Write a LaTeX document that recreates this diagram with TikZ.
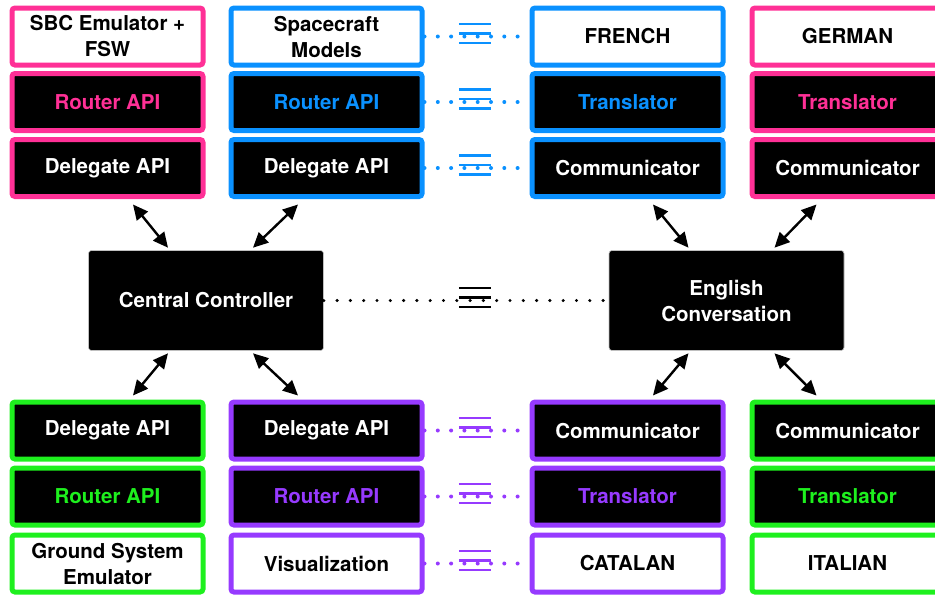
\documentclass[tikz,border=0pt]{standalone}
\usepackage{fontspec}
\setmainfont{TeX Gyre Heros}
\usetikzlibrary{arrows.meta,calc}
\definecolor{pinkc}{RGB}{255,48,150}
\definecolor{bluec}{RGB}{10,145,255}
\definecolor{greenc}{RGB}{30,240,30}
\definecolor{purplec}{RGB}{150,58,255}
\tikzset{
  eqv/.pic={
    \draw[line width=2.6pt] (-16,-12.5) -- (16,-12.5) (-16,-3) -- (16,-3) (-16,6.5) -- (16,6.5);
  }
}
\begin{document}
\begin{tikzpicture}[x=1pt,y=-1pt,
  lbl/.style={font=\bfseries\fontsize{20.5}{26}\selectfont},
  box/.style={lbl, draw=#1, line width=5pt, rounded corners=3pt,
    minimum width=191pt, minimum height=57pt, inner sep=0pt, align=center},
  whitebox/.style={box=#1, fill=white, text=black},
  darkbox/.style={box=#1, fill=black, text=white},
  colbox/.style={box=#1, fill=black, text=#1},
  hub/.style={lbl, fill=black, draw=black!25, line width=0.6pt, rounded corners=3pt,
    minimum width=235pt, minimum height=100pt, inner sep=0pt, text=white, align=center},
  link/.style={line width=2.4pt, {Triangle[length=15pt,width=14pt]}-{Triangle[length=15pt,width=14pt]}},
  dotline/.style={line width=4pt, line cap=round, dash pattern=on 0pt off 13.3pt},
]
\useasboundingbox (0,0) rectangle (935,595);
\clip (0,0) rectangle (935,595);

% ---- top-left stacks
\node[whitebox=pinkc] (sbc)  at (107.5,36.5) {SBC Emulator +\\FSW};
\node[colbox=pinkc]   (prt)  at (107.5,102)  {Router API};
\node[darkbox=pinkc]  (pdel) at (107.5,168)  {Delegate API};

\node[whitebox=bluec] (scm)  at (326.5,36.5) {Spacecraft\\Models};
\node[colbox=bluec]   (brt)  at (326.5,102)  {Router API};
\node[darkbox=bluec]  (bdel) at (326.5,168)  {Delegate API};

% ---- top-right stacks
\node[whitebox=bluec] (fr)   at (627.5,36.5) {FRENCH};
\node[colbox=bluec]   (frt)  at (627.5,102)  {Translator};
\node[darkbox=bluec]  (frc)  at (627.5,168)  {Communicator};

\node[whitebox=pinkc] (de)   at (847.5,36.5) {GERMAN};
\node[colbox=pinkc]   (det)  at (847.5,102)  {Translator};
\node[darkbox=pinkc]  (dec)  at (847.5,168)  {Communicator};

% ---- bottom-left stacks
\node[darkbox=greenc]  (gdel) at (107.5,430.5) {Delegate API};
\node[colbox=greenc]   (grt)  at (107.5,496.5) {Router API};
\node[whitebox=greenc] (gse)  at (107.5,563.5) {Ground System\\Emulator};

\node[darkbox=purplec]  (vdel) at (326.5,430.5) {Delegate API};
\node[colbox=purplec]   (vrt)  at (326.5,496.5) {Router API};
\node[whitebox=purplec] (vis)  at (326.5,563.5) {Visualization};

% ---- bottom-right stacks
\node[darkbox=purplec]  (cac) at (627.5,430.5) {Communicator};
\node[colbox=purplec]   (cat) at (627.5,496.5) {Translator};
\node[whitebox=purplec] (ca)  at (627.5,563.5) {CATALAN};

\node[darkbox=greenc]  (itc) at (847.5,430.5) {Communicator};
\node[colbox=greenc]   (itt) at (847.5,496.5) {Translator};
\node[whitebox=greenc] (it)  at (847.5,563.5) {ITALIAN};

% ---- hubs
\node[hub] (cc)  at (206,300.5)   {Central Controller};
\node[hub] (eng) at (726.5,300.5) {English\\Conversation};

% ---- equivalence links
\draw[dotline, bluec] (scm.east)  -- (fr.west);
\draw[dotline, bluec] (brt.east)  -- (frt.west);
\draw[dotline, bluec] (bdel.east) -- (frc.west);
\pic[bluec] at ($(scm.east)!0.48!(fr.west)$) {eqv};
\pic[bluec] at ($(brt.east)!0.48!(frt.west)$) {eqv};
\pic[bluec] at ($(bdel.east)!0.48!(frc.west)$) {eqv};

\draw[dotline, purplec] (vdel.east) -- (cac.west);
\draw[dotline, purplec] (vrt.east)  -- (cat.west);
\draw[dotline, purplec] (vis.east)  -- (ca.west);
\pic[purplec] at ($(vdel.east)!0.48!(cac.west)$) {eqv};
\pic[purplec] at ($(vrt.east)!0.48!(cat.west)$) {eqv};
\pic[purplec] at ($(vis.east)!0.48!(ca.west)$) {eqv};

\draw[dotline, black, line width=3.4pt] (cc.east) -- (eng.west);
\pic[black] at ($(cc.east)!0.53!(eng.west)$) {eqv};

% ---- hub connections
\draw[link] ([xshift=25.5pt,yshift=-5.5pt]pdel.south) -- ([xshift=-38pt,yshift=2.5pt]cc.north);
\draw[link] ([xshift=-28.5pt,yshift=-5.5pt]bdel.south) -- ([xshift=47pt,yshift=2.5pt]cc.north);
\draw[link] ([xshift=-38pt,yshift=-2.5pt]cc.south) -- ([xshift=25.5pt,yshift=4pt]gdel.north);
\draw[link] ([xshift=47pt,yshift=-2.5pt]cc.south) -- ([xshift=-28.5pt,yshift=4pt]vdel.north);

\draw[link] ([xshift=25.5pt,yshift=-5.5pt]frc.south) -- ([xshift=-38pt,yshift=2.5pt]eng.north);
\draw[link] ([xshift=-31pt,yshift=-5.5pt]dec.south) -- ([xshift=48pt,yshift=2.5pt]eng.north);
\draw[link] ([xshift=-38pt,yshift=-2.5pt]eng.south) -- ([xshift=25.5pt,yshift=4pt]cac.north);
\draw[link] ([xshift=48pt,yshift=-2.5pt]eng.south) -- ([xshift=-31pt,yshift=4pt]itc.north);
\end{tikzpicture}
\end{document}
